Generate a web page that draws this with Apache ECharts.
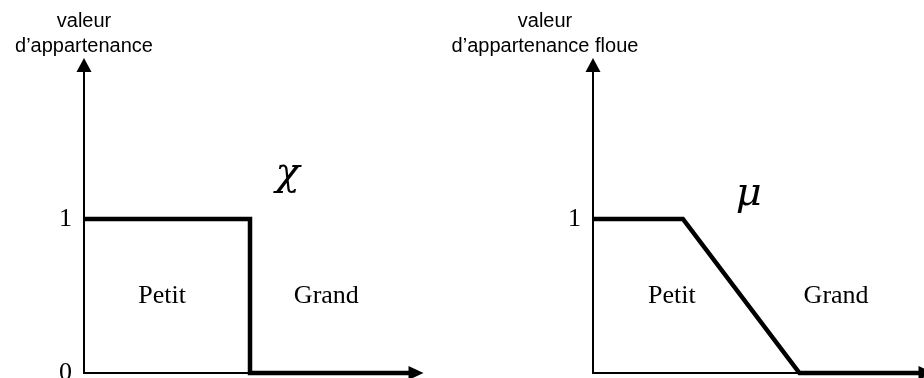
<html lang="fr">

<head>
    <meta charset="UTF-8">
    <title>Ensemble net / ensemble flou</title>
    <style>
        body { margin: 0; background: #fff; }
        #echart { width: 924px; height: 378px; }
    </style>
</head>

<body>
    <div id="echart"></div>
    <script src="https://cdn.jsdelivr.net/npm/echarts@6/dist/echarts.min.js"></script>
    <script>
        // ensemble classique (gauche) : saut brutal de 1 à 0
        const crispX = [0, 50, 50, 100]
        const crispY = [1, 1, 0, 0]
        // ensemble flou (droite) : plateau puis pente
        const fuzzyX = [0, 27, 62, 100]
        const fuzzyY = [1, 1, 0, 0]

        const leftTicks = [0, 1]
        const rightTicks = [1]

        const leftTitle = 'valeur\nd’appartenance'
        const rightTitle = 'valeur\nd’appartenance floue'

        // textes dans les graphes : [texte, x, y]
        const leftWords = [['Petit', 23.5, 0.5], ['Grand', 73, 0.5]]
        const rightWords = [['Petit', 23.7, 0.5], ['Grand', 73, 0.5]]
        const leftSymbol = [['χ', 61.3, 1.29]]
        const rightSymbol = [['μ', 46.8, 1.16]]

        const black = '#000'
        const serif = '"Liberation Serif", "Times New Roman", serif'
        const greek = '"DejaVu Serif", "Liberation Serif", serif'
        const sans = '"Liberation Sans", Arial, sans-serif'

        const echart = echarts.init(document.getElementById('echart'))

        function xAxisOf(idx) {
            return {
                type: 'value', gridIndex: idx, min: 0, max: 100,
                axisLine: { show: true, symbol: ['none', 'triangle'], symbolSize: [14, 15], lineStyle: { color: black, width: 2 } },
                axisTick: { show: false }, axisLabel: { show: false }, splitLine: { show: false }
            }
        }

        function yAxisOf(idx, ticks, title, shift) {
            return {
                type: 'value', gridIndex: idx, min: 0, max: 2,
                name: title, nameLocation: 'end', nameGap: 6,
                nameTextStyle: { fontFamily: sans, fontSize: 20, lineHeight: 25, color: black, align: 'center', padding: [0, shift, 0, 0] },
                axisLine: { show: true, symbol: ['none', 'triangle'], symbolSize: [15, 14], lineStyle: { color: black, width: 2 } },
                axisTick: { show: false }, splitLine: { show: false },
                axisLabel: { customValues: ticks, fontFamily: serif, fontSize: 26, color: black, margin: 12 }
            }
        }

        function curve(idx, xs, ys) {
            return {
                type: 'line', xAxisIndex: idx, yAxisIndex: idx,
                data: xs.map((x, i) => [x, ys[i]]),
                symbol: 'none', clip: false, z: 5, silent: true,
                lineStyle: { color: black, width: 4.5, join: 'miter', cap: 'butt' }
            }
        }

        // scatter sans symbole, sert seulement à poser un texte sur les axes
        function words(idx, list, font, size, italic) {
            return {
                type: 'scatter', xAxisIndex: idx, yAxisIndex: idx,
                data: list.map(w => ({ value: [w[1], w[2]], name: w[0] })),
                symbolSize: 0, silent: true, z: 6,
                itemStyle: { color: black, opacity: 1 },
                label: {
                    show: true, position: 'inside', formatter: p => p.name,
                    fontFamily: font, fontSize: size, fontStyle: italic ? 'italic' : 'normal',
                    color: black, textBorderWidth: 0, opacity: 1
                }
            }
        }

        echart.setOption({
            animation: false,
            grid: [
                { left: 84, right: 508, top: 65, bottom: 5, outerBoundsMode: 'none' },
                { left: 593, right: -2, top: 65, bottom: 5, outerBoundsMode: 'none' }
            ],
            xAxis: [xAxisOf(0), xAxisOf(1)],
            yAxis: [yAxisOf(0, leftTicks, leftTitle, 0), yAxisOf(1, rightTicks, rightTitle, 96)],
            series: [
                curve(0, crispX, crispY),
                curve(1, fuzzyX, fuzzyY),
                words(0, leftWords, serif, 26, false),
                words(1, rightWords, serif, 26, false),
                words(0, leftSymbol, greek, 40, true),
                words(1, rightSymbol, greek, 40, true)
            ]
        })
    </script>
</body>

</html>
